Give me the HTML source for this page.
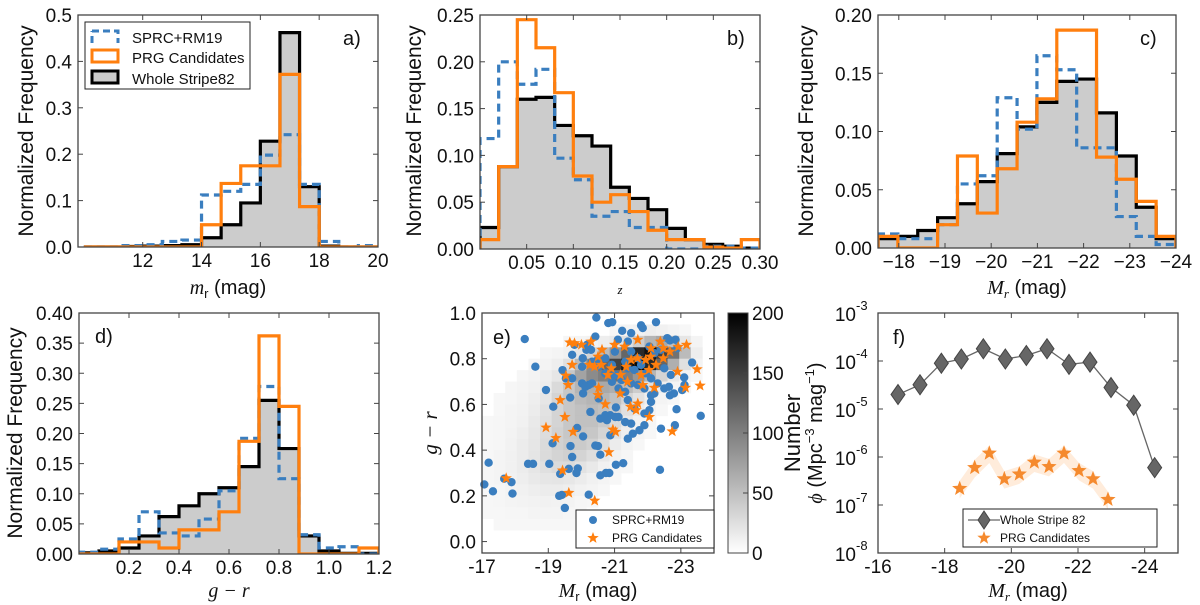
<!DOCTYPE html>
<html><head><meta charset="utf-8"><style>
html,body{margin:0;padding:0;background:#fff;}
svg{display:block;font-family:"Liberation Sans",sans-serif;}
</style></head><body>
<svg id="fig" width="1200" height="605" viewBox="0 0 1200 605" xmlns="http://www.w3.org/2000/svg"></svg>
<script>
// ---------- DATA ----------
const aBinStart = 10, aBinWidth = 2/3;
const aWhole = [0,0,0.001,0.002,0.003,0.005,0.02,0.048,0.095,0.228,0.462,0.13,0.002,0,0];
const aPRG = [0,0,0,0,0,0,0.048,0.137,0.175,0.175,0.372,0.087,0,0,0];
const aSPRC = [0,0,0.003,0.005,0.012,0.015,0.112,0.12,0.135,0.198,0.242,0.135,0.012,0,0.003];
const aXTicks = [12,14,16,18,20];
const aYTicks = [0,0.1,0.2,0.3,0.4,0.5];
const bBinStart = 0, bBinWidth = 0.02;
const bWhole = [0.023,0.088,0.16,0.162,0.132,0.121,0.11,0.066,0.054,0.042,0.022,0.01,0.005,0.003,0.001];
const bPRG = [0.01,0.088,0.245,0.215,0.167,0.078,0.05,0.058,0.04,0.02,0.01,0.01,0.002,0.001,0.01];
const bSPRC = [0.118,0.2,0.176,0.192,0.097,0.074,0.035,0.04,0.023,0.023,0,0,0.003,0.003,0.001];
const bXTicks = [0.05,0.10,0.15,0.20,0.25,0.30];
const bYTicks = [0,0.05,0.10,0.15,0.20,0.25];
const cBinStart = -17.55, cBinWidth = -0.43;
const cWhole = [0.008,0.01,0.015,0.026,0.038,0.057,0.081,0.104,0.125,0.143,0.145,0.116,0.079,0.035,0.008];
const cPRG = [0.01,0,0,0.02,0.079,0.03,0.068,0.108,0.128,0.187,0.187,0.078,0.059,0.04,0.01];
const cSPRC = [0.012,0.008,0.008,0.02,0.055,0.062,0.129,0.102,0.165,0.153,0.086,0.086,0.027,0.01,0.003];
const cXTicks = [-18,-19,-20,-21,-22,-23,-24];
const cYTicks = [0,0.05,0.10,0.15,0.20];
const dBinStart = 0, dBinWidth = 0.08;
const dWhole = [0.002,0.005,0.01,0.03,0.062,0.08,0.1,0.11,0.145,0.255,0.175,0.03,0.005,0.001,0.001];
const dPRG = [0,0,0.02,0.02,0.01,0.04,0.04,0.07,0.187,0.362,0.245,0,0,0,0.01];
const dSPRC = [0.003,0.008,0.025,0.07,0.035,0.03,0.058,0.105,0.192,0.278,0.125,0.032,0.01,0.012,0];
const dXTicks = [0.2,0.4,0.6,0.8,1.0,1.2];
const dYTicks = [0,0.05,0.10,0.15,0.20,0.25,0.30,0.35,0.40];
const eCellX0 = -17, eCellDX = -0.35, eCellY0 = 1.0, eCellDY = -0.05;
const eCounts = [
[0,0,0,0,0,0,0,0,0,0,0,0,0,0,0,0,0,0,0,0],
[0,0,0,0,0,0,0,0,0,0,0,2,3,5,8,6,3,1,0,0],
[0,0,0,0,0,0,0,2,3,5,8,12,20,35,55,65,45,15,3,0],
[0,0,0,0,0,2,3,6,15,30,50,80,120,170,190,150,110,50,8,0],
[0,0,0,0,2,4,8,20,50,90,120,150,180,200,170,120,60,20,4,0],
[0,0,0,2,4,8,15,40,70,90,100,110,100,80,55,30,12,4,1,0],
[0,0,2,3,6,10,25,40,55,60,65,60,50,35,20,8,3,1,0,0],
[0,1,2,4,8,15,30,40,50,55,55,45,30,18,8,3,1,0,0,0],
[0,1,3,5,10,18,30,40,45,50,45,35,20,10,4,1,0,0,0,0],
[1,2,3,6,12,20,30,40,45,45,38,25,12,5,2,0,0,0,0,0],
[1,2,4,8,14,22,32,40,42,40,30,18,8,3,1,0,0,0,0,0],
[1,2,5,10,15,24,32,38,38,32,22,10,4,1,0,0,0,0,0,0],
[1,3,6,10,16,24,30,33,30,22,12,5,2,0,0,0,0,0,0,0],
[2,3,6,10,15,20,24,24,18,12,6,2,1,0,0,0,0,0,0,0],
[2,3,5,8,12,15,16,14,10,6,3,1,0,0,0,0,0,0,0,0],
[1,2,4,6,8,10,10,8,5,3,1,0,0,0,0,0,0,0,0,0],
[1,2,3,4,5,6,5,4,2,1,0,0,0,0,0,0,0,0,0,0],
[1,1,2,2,3,3,3,2,1,0,0,0,0,0,0,0,0,0,0,0],
[0,1,1,1,1,1,1,1,0,0,0,0,0,0,0,0,0,0,0,0],
[0,0,0,0,0,0,0,0,0,0,0,0,0,0,0,0,0,0,0,0]];
const eSprcMr = [-20.45,-20.81,-20.93,-22.25,-18.29,-18.61,-18.93,-19.15,-19.13,-17.2,-17.07,-17.33,-17.67,-17.89,-17.92,-18.39,-18.54,-19.03,-19.33,-19.41,-19.5,-19.36,-19.62,-19.67,-19.72,-19.89,-19.85,-19.87,-20.05,-20.22,-20.42,-20.5,-20.57,-20.57,-20.74,-20.84,-21.04,-21.26,-22.37,-19.43,-19.53,-19.66,-19.72,-19.72,-19.79,-20.02,-20.02,-20.05,-20.27,-20.22,-20.32,-20.17,-20.29,-20.32,-20.5,-20.42,-20.52,-20.57,-20.72,-20.87,-21.02,-20.87,-20.77,-21.04,-21.12,-21.32,-21.5,-21.55,-21.4,-21.75,-21.9,-22.4,-21.9,-22.05,-22.1,-21.6,-21.4,-21.32,-21.12,-21.21,-21.5,-21.7,-21.9,-22.1,-22.2,-22.3,-22.5,-22.64,-22.67,-22.79,-22.87,-22.82,-23.04,-23.11,-23.1,-23.34,-23.6,-21.01,-21.1,-21.23,-21.4,-21.5,-21.7,-21.8,-21.85,-21.8,-21.5,-22.05,-22.2,-22.4,-22.59,-22.67,-22.84,-22.89,-22.5,-22.7,-20.92,-20.72,-20.72,-20.52,-20.12,-20.04,-20.15,-21.32,-21.4,-21.6,-21.02,-20.92,-22.1,-21.95];
const eSprcGR = [0.98,0.956,0.96,0.96,0.886,0.765,0.663,0.59,0.43,0.345,0.25,0.22,0.275,0.26,0.21,0.34,0.34,0.34,0.2,0.204,0.147,0.296,0.318,0.418,0.37,0.32,0.30,0.497,0.46,0.205,0.42,0.418,0.38,0.29,0.30,0.30,0.336,0.343,0.314,0.75,0.714,0.63,0.714,0.817,0.861,0.765,0.692,0.648,0.567,0.685,0.692,0.861,0.839,0.787,0.798,0.897,0.626,0.538,0.553,0.553,0.545,0.465,0.531,0.587,0.545,0.523,0.516,0.472,0.45,0.487,0.509,0.494,0.56,0.575,0.611,0.582,0.619,0.655,0.67,0.707,0.692,0.685,0.67,0.64,0.648,0.692,0.67,0.677,0.64,0.648,0.579,0.509,0.663,0.685,0.718,0.783,0.55,0.831,0.883,0.922,0.875,0.831,0.802,0.773,0.934,0.946,0.912,0.853,0.824,0.839,0.89,0.88,0.883,0.846,0.758,0.729,0.773,0.802,0.736,0.765,0.677,0.802,0.839,0.787,0.758,0.751,0.729,0.699,0.714,0.736];
const ePrgMr = [-19.65,-19.79,-20.0,-20.29,-19.72,-19.53,-19.6,-19.36,-19.5,-18.93,-19.23,-19.75,-19.43,-19.62,-17.73,-20.4,-20.83,-20.95,-21.03,-21.65,-21.48,-21.7,-22.05,-22.74,-20.5,-20.72,-20.52,-21.17,-21.85,-22.2,-23.14,-23.49,-23.58,-22.9,-23.17,-22.92,-22.67,-22.47,-22.38,-22.09,-21.94,-21.69,-21.5,-21.35,-21.18,-20.9,-20.8,-20.6,-20.4,-20.25,-20.62,-21.0,-21.3,-21.7,-22.1,-22.25,-22.47,-21.8,-22.04,-21.39,-20.5];
const ePrgGR = [0.871,0.868,0.861,0.875,0.773,0.726,0.685,0.619,0.545,0.499,0.453,0.48,0.311,0.213,0.277,0.179,0.391,0.49,0.48,0.575,0.59,0.604,0.545,0.482,0.641,0.601,0.673,0.648,0.685,0.673,0.673,0.754,0.682,0.743,0.861,0.852,0.831,0.802,0.875,0.809,0.795,0.802,0.795,0.765,0.729,0.758,0.729,0.773,0.765,0.773,0.839,0.861,0.853,0.883,0.846,0.773,0.846,0.729,0.751,0.699,0.809];
const eXTicks = [-17,-19,-21,-23];
const eYTicks = [0,0.2,0.4,0.6,0.8,1.0];
const eCbTicks = [0,50,100,150,200];
const fWholeMr = [-16.6,-17.26,-17.9,-18.5,-19.16,-19.82,-20.45,-21.07,-21.73,-22.36,-22.99,-23.67,-24.3];
const fWholePhi = [2e-5,3.2e-5,9e-5,1.1e-4,1.8e-4,1.1e-4,1.3e-4,1.8e-4,8.5e-5,9.5e-5,2.8e-5,1.2e-5,6e-7];
const fPrgMr = [-18.45,-18.9,-19.34,-19.79,-20.24,-20.69,-21.13,-21.58,-22.03,-22.45,-22.9];
const fPrgPhi = [2.2e-7,6e-7,1.2e-6,3.5e-7,4.4e-7,7.8e-7,6.3e-7,1.2e-6,5.2e-7,3.5e-7,1.3e-7];
const fXTicks = [-16,-18,-20,-22,-24];
const fYExp = [-8,-7,-6,-5,-4,-3];

// ---------- HELPERS ----------
const NS = "http://www.w3.org/2000/svg";
const fig = document.getElementById('fig');
const XOFF = 20;
function el(tag, attrs, parent, text){
  const e = document.createElementNS(NS, tag);
  for (const k in attrs) e.setAttribute(k, attrs[k]);
  if (text !== undefined) e.textContent = text;
  (parent || fig).appendChild(e);
  return e;
}
function lin(d0,d1,p0,p1){ return v => p0 + (v-d0)/(d1-d0)*(p1-p0); }
function logs(e0,e1,p0,p1){ return v => p0 + (Math.log10(v)-e0)/(e1-e0)*(p1-p0); }

function frame(g, box){
  const r = el('rect',{x:box.x0,y:box.y0,width:box.x1-box.x0,height:box.y1-box.y0,fill:'none',stroke:'#444','stroke-width':1.3}, g);
  
  
}
function ticks(g, box, sx, sy, xt, yt, xfmt, yfmt, fs){
  xt.forEach(v=>{
    const x = sx(v);
    el('line',{x1:x,x2:x,y1:box.y1,y2:box.y1-5,stroke:'#444'},g);
    el('line',{x1:x,x2:x,y1:box.y0,y2:box.y0+5,stroke:'#444'},g);
    const t = el('text',{x:x,y:box.y1+XOFF,'font-size':fs,'text-anchor':'middle',fill:'#111'},g,xfmt(v));
    
    
  });
  yt.forEach(v=>{
    const y = sy(v);
    el('line',{x1:box.x0,x2:box.x0+5,y1:y,y2:y,stroke:'#444'},g);
    el('line',{x1:box.x1,x2:box.x1-5,y1:y,y2:y,stroke:'#444'},g);
    const t = el('text',{x:box.x0-6,y:y+7,'font-size':fs,'text-anchor':'end',fill:'#111'},g,yfmt(v));
    
    
  });
}
function stepPath(start, w, vals, sx, sy){
  let d = `M${sx(start)},${sy(0)}`;
  vals.forEach((v,i)=>{
    d += ` L${sx(start+i*w)},${sy(v)} L${sx(start+(i+1)*w)},${sy(v)}`;
  });
  d += ` L${sx(start+vals.length*w)},${sy(0)}`;
  return d;
}
function histPanel(name, box, xd, yd, start, w, whole, prg, sprc){
  const g = el('g',{});  
  const sx = lin(xd[0],xd[1],box.x0,box.x1), sy = lin(yd[0],yd[1],box.y1,box.y0);
  const cp = el('clipPath',{id:name+'-clip'},g);
  el('rect',{x:box.x0,y:box.y0-3,width:box.x1-box.x0,height:box.y1-box.y0+3},cp);
  const inner = el('g',{'clip-path':`url(#${name}-clip)`},g);
  const pw = stepPath(start,w,whole,sx,sy);
  const f = el('path',{d:pw+' Z',fill:'#cccccc',stroke:'none'},inner);
   
  const b = el('path',{d:pw,fill:'none',stroke:'#000','stroke-width':3.2},inner);
   
  const s = el('path',{d:stepPath(start,w,sprc,sx,sy),fill:'none',stroke:'#3a7ebf','stroke-width':3.2,'stroke-dasharray':'8,5'},inner);
   
  const o = el('path',{d:stepPath(start,w,prg,sx,sy),fill:'none',stroke:'#ff7f0e','stroke-width':3.2},inner);
   
  frame(g,box);
  return {g,sx,sy};
}
function ylabel(x, y, txt, name){
  const t = el('text',{x:0,y:0,'font-size':21,'text-anchor':'middle',transform:`translate(${x},${y}) rotate(-90)`,fill:'#111'},fig,txt);
   
  return t;
}
function starPts(cx,cy,r){
  let p=[];
  for(let i=0;i<10;i++){
    const rr = i%2? r*0.42 : r;
    const a = -Math.PI/2 + i*Math.PI/5;
    p.push((cx+rr*Math.cos(a)).toFixed(1)+','+(cy+rr*Math.sin(a)).toFixed(1));
  }
  return p.join(' ');
}
const fmt2 = v=>v.toFixed(2), fmt1 = v=>v.toFixed(1);

// ---------- PANEL A ----------
{
  const box={x0:78,x1:378,y0:15,y1:247};
  const P = histPanel('panel-a',box,[9.8,20],[0,0.5],aBinStart,aBinWidth,aWhole,aPRG,aSPRC);
  ticks(P.g,box,P.sx,P.sy,aXTicks,aYTicks,v=>String(v),fmt1,19);
  const t=el('text',{x:343,y:45,'font-size':20,fill:'#111'},P.g,'a)');  
  const lg = el('g',{});  
  el('rect',{x:85,y:22,width:165,height:67,fill:'#fff',stroke:'#222','stroke-width':1},lg);
  el('path',{d:'M92,31 L118,31 L118,43 M92,43 L92,31',fill:'none',stroke:'#3a7ebf','stroke-width':3,'stroke-dasharray':'7,4'},lg);
  el('rect',{x:92,y:50,width:26,height:12,fill:'none',stroke:'#ff7f0e','stroke-width':3},lg);
  el('rect',{x:92,y:71,width:26,height:12,fill:'#ccc',stroke:'#000','stroke-width':3},lg);
  const l1=el('text',{x:132,y:43,'font-size':15,fill:'#111'},lg,'SPRC+RM19');  
  const l2=el('text',{x:132,y:63,'font-size':15,fill:'#111'},lg,'PRG Candidates');  
  const l3=el('text',{x:132,y:84,'font-size':15,fill:'#111'},lg,'Whole Stripe82');  
  ylabel(33,131,'Normalized Frequency','y-axis-title-a');
  const xl=el('text',{x:228,y:294,'font-size':20,'text-anchor':'middle',fill:'#111'},fig);
   
  el('tspan',{'font-family':'Liberation Serif,serif','font-style':'italic'},xl,'m');
  el('tspan',{'font-size':13,dy:4},xl,'r');
  el('tspan',{dy:-4},xl,' (mag)');
}
// ---------- PANEL B ----------
{
  const box={x0:480,x1:760,y0:15,y1:249};
  const P = histPanel('panel-b',box,[0,0.30],[0,0.25],bBinStart,bBinWidth,bWhole,bPRG,bSPRC);
  ticks(P.g,box,P.sx,P.sy,bXTicks,bYTicks,fmt2,fmt2,19);
  const t=el('text',{x:727,y:45,'font-size':20,fill:'#111'},P.g,'b)');  
  ylabel(421,131,'Normalized Frequency','y-axis-title-b');
  const xl=el('text',{x:620,y:294,'font-size':13,'text-anchor':'middle','font-family':'Liberation Serif,serif','font-style':'italic',fill:'#111'},fig,'z');
   
}
// ---------- PANEL C ----------
{
  const box={x0:878,x1:1176,y0:15,y1:248};
  const P = histPanel('panel-c',box,[-17.55,-24],[0,0.20],cBinStart,cBinWidth,cWhole,cPRG,cSPRC);
  ticks(P.g,box,P.sx,P.sy,cXTicks,cYTicks,v=>'\u2212'+Math.abs(v),fmt2,19);
  const t=el('text',{x:1140,y:45,'font-size':20,fill:'#111'},P.g,'c)');  
  ylabel(813,131,'Normalized Frequency','y-axis-title-c');
  const xl=el('text',{x:1027,y:294,'font-size':20,'text-anchor':'middle',fill:'#111'},fig);
   
  el('tspan',{'font-family':'Liberation Serif,serif','font-style':'italic'},xl,'M');
  el('tspan',{'font-size':13,dy:4,'font-family':'Liberation Serif,serif','font-style':'italic'},xl,'r');
  el('tspan',{dy:-4},xl,' (mag)');
}
// ---------- PANEL D ----------
{
  const box={x0:79,x1:379,y0:313,y1:554};
  const P = histPanel('panel-d',box,[0,1.2],[0,0.40],dBinStart,dBinWidth,dWhole,dPRG,dSPRC);
  ticks(P.g,box,P.sx,P.sy,dXTicks,dYTicks,fmt1,fmt2,19);
  const t=el('text',{x:95,y:343,'font-size':20,fill:'#111'},P.g,'d)');  
  ylabel(22,433,'Normalized Frequency','y-axis-title-d');
  const xl=el('text',{x:229,y:597,'font-size':20,'text-anchor':'middle','font-family':'Liberation Serif,serif','font-style':'italic',fill:'#111'},fig,'g \u2212 r');
   
}
// ---------- PANEL E ----------
{
  const box={x0:482,x1:714,y0:313,y1:553};
  const g = el('g',{});  
  const sx = lin(-17,-24,box.x0,box.x1), sy = lin(-0.05,1.0,box.y1,box.y0);
  const hm = el('g',{},g);  
  eCounts.forEach((row,j)=>row.forEach((v,i)=>{
    if(!v) return;
    const xa=sx(eCellX0+i*eCellDX), xb=sx(eCellX0+(i+1)*eCellDX);
    const ya=sy(eCellY0+j*eCellDY), yb=sy(eCellY0+(j+1)*eCellDY);
    const c = Math.round(248 - Math.min(v,200)/200*243);
    const r = el('rect',{x:Math.min(xa,xb),y:Math.min(ya,yb),width:Math.abs(xb-xa)+0.3,height:Math.abs(yb-ya)+0.3,fill:`rgb(${c},${c},${c})`},hm);
     
  }));
  eSprcMr.forEach((m,i)=>{
    const c = el('circle',{cx:sx(m),cy:sy(eSprcGR[i]),r:4.2,fill:'#3a7ebf'},g);
     
  });
  ePrgMr.forEach((m,i)=>{
    const s = el('polygon',{points:starPts(sx(m),sy(ePrgGR[i]),6),fill:'#ff7f0e'},g);
     
  });
  frame(g,box);
  ticks(g,box,sx,sy,eXTicks,eYTicks,v=>'-'+Math.abs(v),fmt1,19);
  const t=el('text',{x:493,y:344,'font-size':20,fill:'#111'},g,'e)');  
  const lg = el('g',{});  
  el('rect',{x:576,y:510,width:138,height:38,fill:'#fff',stroke:'#222'},lg);
  el('circle',{cx:593,cy:520,r:4,fill:'#3a7ebf'},lg);
  el('polygon',{points:starPts(593,538,6),fill:'#ff7f0e'},lg);
  const l1=el('text',{x:612,y:524,'font-size':12,fill:'#111'},lg,'SPRC+RM19');  
  const l2=el('text',{x:612,y:542,'font-size':12,fill:'#111'},lg,'PRG Candidates');  
  const defs = el('defs',{});
  const lgd = el('linearGradient',{id:'cbg',x1:0,y1:1,x2:0,y2:0},defs);
  el('stop',{offset:0,'stop-color':'#fff'},lgd);
  el('stop',{offset:1,'stop-color':'#000'},lgd);
  const cb = el('g',{});  
  el('rect',{x:728,y:313,width:20,height:240,fill:'url(#cbg)',stroke:'#444'},cb);
  const sc = lin(0,200,553,313);
  eCbTicks.forEach(v=>{
    el('line',{x1:743,x2:748,y1:sc(v),y2:sc(v),stroke:'#444'},cb);
    const tl=el('text',{x:752,y:sc(v)+7,'font-size':19,fill:'#111'},cb,String(v));
     
  });
  const cl = el('text',{x:0,y:0,'font-size':22,'text-anchor':'middle',transform:'translate(800,433) rotate(-90)',fill:'#111'},fig,'Number');
   
  const yl = el('text',{x:0,y:0,'font-size':21,'text-anchor':'middle','font-family':'Liberation Serif,serif','font-style':'italic',transform:'translate(437,433) rotate(-90)',fill:'#111'},fig,'g \u2212 r');
   
  const xl=el('text',{x:598,y:597,'font-size':20,'text-anchor':'middle',fill:'#111'},fig);
   
  el('tspan',{'font-family':'Liberation Serif,serif','font-style':'italic'},xl,'M');
  el('tspan',{'font-size':13,dy:4},xl,'r');
  el('tspan',{dy:-4},xl,' (mag)');
}
// ---------- PANEL F ----------
{
  const box={x0:878,x1:1178,y0:313,y1:553};
  const g = el('g',{});  
  const sx = lin(-16,-25,box.x0,box.x1), sy = logs(-8,-3,box.y1,box.y0);
  const up = fPrgMr.map((m,i)=>`${sx(m)},${sy(fPrgPhi[i]*1.45)}`);
  const lo = fPrgMr.map((m,i)=>`${sx(m)},${sy(fPrgPhi[i]/1.6)}`).reverse();
  const band = el('polygon',{points:up.concat(lo).join(' '),fill:'#ff7f0e','fill-opacity':0.15},g);
   
  const wl = el('polyline',{points:fWholeMr.map((m,i)=>`${sx(m)},${sy(fWholePhi[i])}`).join(' '),fill:'none',stroke:'#666','stroke-width':1.3},g);
   
  fWholeMr.forEach((m,i)=>{
    const x=sx(m), y=sy(fWholePhi[i]);
    const d = el('polygon',{points:`${x},${y-10} ${x+7},${y} ${x},${y+10} ${x-7},${y}`,fill:'#666',stroke:'#444'},g);
     
  });
  fPrgMr.forEach((m,i)=>{
    const s = el('polygon',{points:starPts(sx(m),sy(fPrgPhi[i]),8),fill:'#f58a2e'},g);
     
  });
  frame(g,box);
  fXTicks.forEach(v=>{
    const x=sx(v);
    el('line',{x1:x,x2:x,y1:box.y1,y2:box.y1-5,stroke:'#444'},g);
    el('line',{x1:x,x2:x,y1:box.y0,y2:box.y0+5,stroke:'#444'},g);
    const t=el('text',{x:x,y:box.y1+XOFF,'font-size':19,'text-anchor':'middle',fill:'#111'},g,'-'+Math.abs(v));
     
  });
  fYExp.forEach(e=>{
    const y=sy(Math.pow(10,e));
    el('line',{x1:box.x0,x2:box.x0+5,y1:y,y2:y,stroke:'#444'},g);
    el('line',{x1:box.x1,x2:box.x1-5,y1:y,y2:y,stroke:'#444'},g);
    const t=el('text',{x:box.x0-22,y:y+8,'font-size':19,'text-anchor':'end',fill:'#111'},g,'10');
     
    const s=el('text',{x:box.x0-22,y:y-3,'font-size':13,'text-anchor':'start',fill:'#111'},g,String(e));
     
  });
  const t=el('text',{x:893,y:344,'font-size':20,fill:'#111'},g,'f)');  
  const lg = el('g',{});  
  el('rect',{x:963,y:509,width:194,height:38,fill:'#fff',stroke:'#222'},lg);
  el('line',{x1:968,x2:1000,y1:520,y2:520,stroke:'#666','stroke-width':1.3},lg);
  el('polygon',{points:'984,511 990,520 984,529 978,520',fill:'#666',stroke:'#444'},lg);
  el('polygon',{points:starPts(984,538,7),fill:'#f58a2e'},lg);
  const l1=el('text',{x:1000,y:524,'font-size':12,fill:'#111'},lg,'Whole Stripe 82');  
  const l2=el('text',{x:1000,y:542,'font-size':12,fill:'#111'},lg,'PRG Candidates');  
  const yl = el('text',{x:0,y:0,'font-size':20,'text-anchor':'middle',transform:'translate(822,433) rotate(-90)',fill:'#111'},fig);
   
  el('tspan',{'font-family':'Liberation Serif,serif','font-style':'italic'},yl,'\u03d5');
  el('tspan',{},yl,' (Mpc');
  el('tspan',{'font-size':13,dy:-8},yl,'\u22123');
  el('tspan',{dy:8},yl,' mag');
  el('tspan',{'font-size':13,dy:-8},yl,'\u22121');
  el('tspan',{dy:8},yl,')');
  const xl=el('text',{x:1028,y:597,'font-size':20,'text-anchor':'middle',fill:'#111'},fig);
   
  el('tspan',{'font-family':'Liberation Serif,serif','font-style':'italic'},xl,'M');
  el('tspan',{'font-size':13,dy:4,'font-family':'Liberation Serif,serif','font-style':'italic'},xl,'r');
  el('tspan',{dy:-4},xl,' (mag)');
}
</script>
</body></html>
